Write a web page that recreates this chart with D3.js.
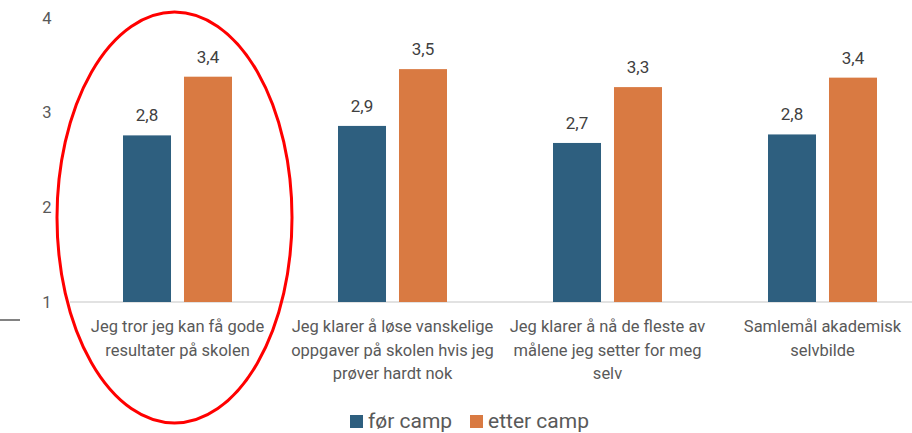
<!DOCTYPE html>
<html>
<head>
<meta charset="utf-8">
<script src="https://cdn.jsdelivr.net/npm/d3@7"></script>
<style>
  body { margin: 0; background: #fff; }
  text { font-family: Roboto, sans-serif; }
</style>
</head>
<body>
<div id="chart"></div>
<script>
var categories = [
  ["Jeg tror jeg kan få gode", "resultater på skolen"],
  ["Jeg klarer å løse vanskelige", "oppgaver på skolen hvis jeg", "prøver hardt nok"],
  ["Jeg klarer å nå de fleste av", "målene jeg setter for meg", "selv"],
  ["Samlemål akademisk", "selvbilde"]
];
var series = ["før camp", "etter camp"];
var forCamp = [2.76, 2.86, 2.68, 2.77];
var etterCamp = [3.38, 3.46, 3.27, 3.37];
var yTicks = [1, 2, 3, 4];
var colors = ["#2e5f7f", "#d97a42"];

var width = 912, height = 433;
var nb = d3.formatLocale({decimal: ",", thousands: " ", grouping: [3], currency: ["", " kr"]});
var fmt = nb.format(".1f");

var svg = d3.select("#chart").append("svg")
  .attr("width", width)
  .attr("height", height);

var x = d3.scaleBand()
  .domain(d3.range(categories.length))
  .range([70, 930]);

// two bars of ~48px with a ~13px gap inside each 215px band
var x1 = d3.scaleBand()
  .domain([0, 1])
  .range([0, x.bandwidth()])
  .paddingInner(0.213)
  .paddingOuter(0.869);

var y = d3.scaleLinear()
  .domain([1, 4])
  .range([302, 18]);

// y tick labels, no axis line
svg.append("g").selectAll("text")
  .data(yTicks)
  .enter().append("text")
  .attr("x", 47)
  .attr("y", function(d) { return y(d); })
  .attr("dy", "0.35em")
  .attr("text-anchor", "middle")
  .style("font-size", "16.5px")
  .style("fill", "#595959")
  .text(function(d) { return d; });

// baseline
svg.append("line")
  .attr("x1", 70).attr("x2", width)
  .attr("y1", y(1)).attr("y2", y(1))
  .style("stroke", "#d9d9d9")
  .style("stroke-width", 1.5);

// stray dark line at left edge
svg.append("line")
  .attr("x1", 0).attr("x2", 20)
  .attr("y1", 320).attr("y2", 320)
  .style("stroke", "#595959")
  .style("stroke-width", 1.5);

var rows = categories.map(function(c, i) { return [forCamp[i], etterCamp[i]]; });

var groups = svg.append("g").selectAll("g")
  .data(rows)
  .enter().append("g")
  .attr("transform", function(d, i) { return "translate(" + x(i) + ",0)"; });

groups.selectAll("rect")
  .data(function(d) { return d; })
  .enter().append("rect")
  .attr("x", function(d, j) { return x1(j); })
  .attr("y", function(d) { return y(d); })
  .attr("width", x1.bandwidth())
  .attr("height", function(d) { return y(1) - y(d); })
  .style("fill", function(d, j) { return colors[j]; });

groups.selectAll("text.val")
  .data(function(d) { return d; })
  .enter().append("text")
  .attr("class", "val")
  .attr("x", function(d, j) { return x1(j) + x1.bandwidth() / 2; })
  .attr("y", function(d) { return y(d) - 14; })
  .attr("text-anchor", "middle")
  .style("font-size", "17px")
  .style("fill", "#404040")
  .text(function(d) { return fmt(d); });

// category labels
var labels = svg.append("g").selectAll("text.cat")
  .data(categories)
  .enter().append("text")
  .attr("class", "cat")
  .attr("x", function(d, i) { return x(i) + x.bandwidth() / 2; })
  .attr("y", 332)
  .attr("text-anchor", "middle")
  .style("font-size", "16.5px")
  .style("fill", "#595959");

labels.selectAll("tspan")
  .data(function(d) { return d; })
  .enter().append("tspan")
  .attr("x", function() { return d3.select(this.parentNode).attr("x"); })
  .attr("dy", function(d, k) { return k === 0 ? 0 : 23.5; })
  .text(function(d) { return d; });

// legend
var legend = svg.append("g").selectAll("g")
  .data(series)
  .enter().append("g")
  .attr("transform", function(d, i) { return "translate(" + [350, 470][i] + ",415)"; });

legend.append("rect")
  .attr("width", 13).attr("height", 13)
  .style("fill", function(d, i) { return colors[i]; });

legend.append("text")
  .attr("x", 18)
  .attr("y", 13)
  .style("font-size", "21px")
  .style("fill", "#595959")
  .text(function(d) { return d; });

// red ellipse highlight
svg.append("ellipse")
  .attr("cx", 174.5)
  .attr("cy", 217.5)
  .attr("rx", 117.5)
  .attr("ry", 205.5)
  .style("fill", "none")
  .style("stroke", "#ff0000")
  .style("stroke-width", 3);
</script>
</body>
</html>
